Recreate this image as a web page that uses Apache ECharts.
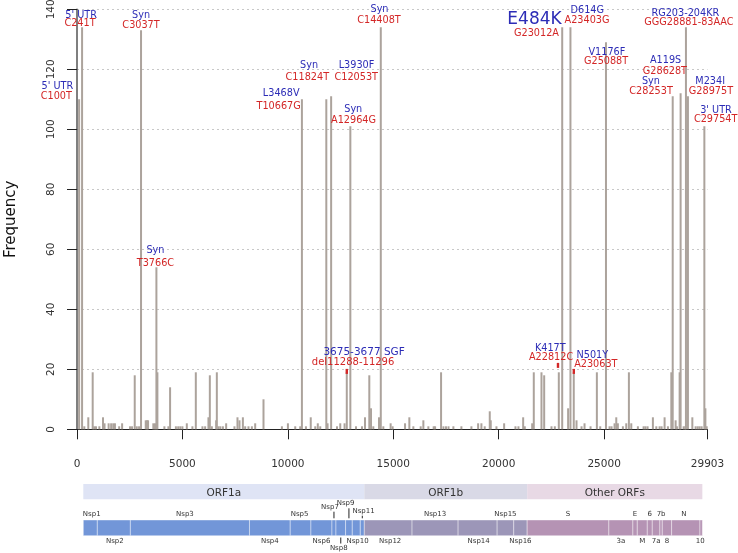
<!DOCTYPE html>
<html><head><meta charset="utf-8">
<script src="https://cdn.jsdelivr.net/npm/echarts@6/dist/echarts.min.js"></script>
<style>html,body{margin:0;padding:0;background:#fff}#c{width:738px;height:553px}</style>
</head><body><div id="c"></div>
<script>
// ---------------- DATA ----------------
const GENOME_LEN = 29903;
const xTickValues = [0, 5000, 10000, 15000, 20000, 25000, 29903];
const yMax = 140, yStep = 20;

// unannotated variant frequencies
const barPositions = [347,536,744,820,900,1060,1234,1306,1500,1620,1720,1800,2000,2140,2516,2610,2738,2834,2944,3260,3320,3370,3620,3700,3813,4145,4335,4415,4690,4800,4900,5000,5208,5474,5635,5950,6077,6234,6300,6395,6600,6632,6710,6800,6920,7074,7468,7611,7706,7867,7976,8133,8294,8451,8845,9718,10003,10350,10587,10858,11086,11300,11420,11537,11884,12330,12486,12690,12795,13232,13517,13659,13863,13945,14053,14324,14528,14875,14970,15558,15762,15952,16300,16427,16664,16916,16983,17267,17380,17500,17620,17851,18231,18706,19024,19180,19337,19576,19623,19893,20258,20795,20937,21160,21237,21588,21664,22029,22157,22504,22662,22851,23293,23560,23691,23929,24071,24356,24656,24816,25258,25353,25495,25576,25652,25890,26050,26175,26288,26601,26872,26960,27062,27313,27475,27631,27726,27868,28026,28187,28391,28453,28581,28771,28852,29184,29340,29440,29530,29626,29803,29864];
const barFrequencies = [1,4,19,1,1,1,4,2,2,2,2,2,1,2,1,1,18,1,1,3,3,3,2,2,19,1,1,14,1,1,1,1,2,1,19,1,1,4,18,1,3,19,1,1,1,2,1,4,3,4,1,1,1,2,10,1,2,1,1,1,4,1,2,1,2,1,2,2,19,1,1,4,18,7,1,4,1,2,1,2,4,1,1,3,1,1,1,19,1,1,1,1,1,1,2,2,1,6,3,1,2,1,1,4,1,2,19,19,18,1,1,19,7,19,3,1,2,1,19,1,1,1,2,4,2,1,2,19,2,1,1,1,1,4,1,1,1,4,1,19,3,1,19,1,1,4,1,1,1,1,7,1];

// annotated high-frequency variants
const annotPositions   = [100,241,3037,3766,10667,11824,12053,12964,14408,23012,23403,25088,28253,28628,28881,28975,29754];
const annotFrequencies = [110,134,133,54,110,110,111,101,134,134,134,129,111,112,134,111,101];
const annotEffects   = ["5' UTR","5' UTR","Syn","Syn","L3468V","Syn","L3930F","Syn","Syn","E484K","D614G","V1176F","Syn","A119S","RG203-204KR","M234I","3' UTR"];
const annotMutations = ["C100T","C241T","C3037T","T3766C","T10667G","C11824T","C12053T","A12964G","C14408T","G23012A","A23403G","G25088T","C28253T","G28628T","GGG28881-83AAC","G28975T","C29754T"];

// highlighted low-frequency variants (red ticks)
const markerPositions   = [12795, 22812, 23563];
const markerFrequencies = [19.3, 21.3, 19.3];
const markerEffects   = ["3675-3677 SGF","K417T","N501Y"];
const markerMutations = ["del11288-11296","A22812C","A23063T"];

// genome map
const bandNames  = ["ORF1a","ORF1b","Other ORFs"];
const bandStarts = [299, 13626, 21350];
const bandEnds   = [13626, 21350, 29659];
const segNames  = ["Nsp1","Nsp2","Nsp3","Nsp4","Nsp5","Nsp6","Nsp7","Nsp8","Nsp9","Nsp10","Nsp11","Nsp12","Nsp13","Nsp14","Nsp15","Nsp16","S","3a","E","M","6","7a","7b","8","N","10"];
const segStarts = [299,964,2531,8180,10113,11095,12092,12282,12738,13056,13436,13626,15891,18075,19926,20714,21350,25225,26364,26573,27047,27284,27645,27759,28201,29545];
const segEnds   = [964,2531,8180,10113,11095,12092,12282,12738,13056,13436,13626,15891,18075,19926,20714,21350,25225,26364,26573,27047,27284,27645,27759,28201,29545,29659];
const segGroups = [0,0,0,0,0,0,0,0,0,0,0,1,1,1,1,1,2,2,2,2,2,2,2,2,2,2];

// ---------------- LAYOUT (pixel offsets, styles) ----------------
const FONT = '"DejaVu Sans", Verdana, sans-serif';
const BAR_COLOR = '#aca39c';
const BLUE = '#2c2cb6', RED = '#d32626';
const LBL = 9.7;
const annotEffectOffset = [[-21.8,-12.6],[-0.9,-12.3],[0,-15.3],[-1,-17],[-20.7,-6],[-17.3,-33.6],[25.4,-30.6],[2.9,-17.3],[-1.3,-18],[-27.7,-8],[16.8,-17.3],[0.9,10],[-21.8,-15.3],[-15,-32.6],[-0.6,-14],[22.2,-15.3],[11.6,-16.3]];
const annotMutationOffset = [[-22.8,-2.6],[-2.1,-4],[0,-5.3],[-1,-4],[-23.3,6.7],[-19,-22],[25.1,-19],[3.2,-6.3],[-1.8,-6.6],[-25.7,6],[16.6,-6.6],[0.1,19.4],[-21.6,-5.3],[-15.7,-22.3],[3,-4.6],[23,-5.3],[11.3,-7]];
const annotEffectSize = [LBL,LBL,LBL,LBL,LBL,LBL,LBL,LBL,LBL,17,LBL,LBL,LBL,LBL,LBL,LBL,LBL];
const markerEffectOffset = [[17.3,-19.6],[-7.7,-17],[18.5,-16.2]];
const markerMutationOffset = [[6.3,-8.6],[-6.9,-7.6],[22,-7.2]];
const markerEffectSize = [10.5, LBL, LBL];
const markerMutationSize = [10, LBL, LBL];
const bandColors = ['#dfe4f5','#d9d9e6','#e8d9e5'];
const segColors = ['#7296d8','#9c96b8','#b593b4'];
// label layout per segment: [dx, y (relative to map top), tick]
const A = 44.3, B = 70.7;
const segLabelLayout = [[1.4,A,0],[1,B,0],[-5,A,0],[0,B,0],[-1,A,0],[0,B,0],[-4,36.7,1],[-2,78,1],[-3.4,33.3,1],[1.3,B,0],[1.3,40.7,1],[2,B,0],[0,A,0],[1,B,0],[0,A,0],[0,B,0],[0,A,0],[0,B,0],[0,A,0],[0,B,0],[0,A,0],[0,B,0],[0,A,0],[0,B,0],[-2,A,0],[-1,B,0]];

// ---------------- BUILD ----------------
const barData = barPositions.map((p, i) => [p, barFrequencies[i]])
  .concat(annotPositions.map((p, i) => [p, annotFrequencies[i]]));
const annotData = annotPositions.map((p, i) => [p, annotFrequencies[i]]);
const markerData = markerPositions.map((p, i) => [p, markerFrequencies[i]]);
const bandData = bandNames.map((n, i) => [bandStarts[i], bandEnds[i], i]);
const segData = segNames.map((n, i) => [segStarts[i], segEnds[i], segGroups[i]]);

function txt(x, y, text, fill, size, extra) {
  return Object.assign({type: 'text', x: x, y: y, silent: true,
    style: {text: text, fill: fill, fontSize: size, fontFamily: FONT, align: 'center', verticalAlign: 'middle'}}, extra || {});
}

const chart = echarts.init(document.getElementById('c'), null, {renderer: 'canvas'});
chart.setOption({
  animation: false,
  backgroundColor: '#fff',
  grid: [
    {left: 77, right: 30.5, top: 9.3, height: 420, containLabel: false, outerBoundsMode: 'none'},
    {left: 77, right: 30.5, top: 470, height: 83, containLabel: false, outerBoundsMode: 'none'}
  ],
  xAxis: [{
    type: 'value', gridIndex: 0, min: 0, max: GENOME_LEN,
    axisLine: {show: true, onZero: false, lineStyle: {color: '#222', width: 1}},
    axisTick: {show: true, length: 10, lineStyle: {color: '#222'}, customValues: xTickValues},
    axisLabel: {customValues: xTickValues, margin: 29, fontSize: 10.5, color: '#333', fontFamily: FONT,
      formatter: function (v) { return String(v); }},
    splitLine: {show: false}
  }, {
    type: 'value', gridIndex: 1, min: 0, max: GENOME_LEN, show: false
  }],
  yAxis: [{
    type: 'value', gridIndex: 0, min: 0, max: yMax, interval: yStep,
    name: 'Frequency', nameLocation: 'middle', nameGap: 58,
    nameTextStyle: {fontSize: 15, color: '#111', fontFamily: FONT},
    axisLine: {show: true, lineStyle: {color: '#555', width: 1.5}},
    axisTick: {show: true, length: 10, lineStyle: {color: '#222'}},
    axisLabel: {rotate: 90, margin: 20, fontSize: 10.5, color: '#333', fontFamily: FONT,
      formatter: function (v) { return String(v); }},
    splitLine: {show: true, lineStyle: {type: [2, 3], color: '#c8c8c8', width: 1}}
  }, {
    type: 'value', gridIndex: 1, min: 0, max: 83, inverse: true, show: false
  }],
  series: [
    {
      type: 'custom', name: 'freq', xAxisIndex: 0, yAxisIndex: 0, silent: true,
      data: barData,
      renderItem: function (params, api) {
        const x = api.value(0), y = api.value(1);
        const p0 = api.coord([x, 0]), p1 = api.coord([x, y]);
        return {type: 'rect', shape: {x: p0[0] - 1, y: p1[1], width: 2, height: p0[1] - p1[1]}, style: {fill: BAR_COLOR}};
      }
    },
    {
      type: 'custom', name: 'annot', xAxisIndex: 0, yAxisIndex: 0, silent: true, clip: false,
      data: annotData,
      renderItem: function (params, api) {
        const i = params.dataIndex;
        const pt = api.coord([api.value(0), api.value(1)]);
        const eo = annotEffectOffset[i], mo = annotMutationOffset[i];
        return {type: 'group', children: [
          txt(pt[0] + eo[0], pt[1] + eo[1], annotEffects[i], BLUE, annotEffectSize[i]),
          txt(pt[0] + mo[0], pt[1] + mo[1], annotMutations[i], RED, LBL)
        ]};
      }
    },
    {
      type: 'custom', name: 'markers', xAxisIndex: 0, yAxisIndex: 0, silent: true, clip: false,
      data: markerData,
      renderItem: function (params, api) {
        const i = params.dataIndex;
        const pt = api.coord([api.value(0), api.value(1)]);
        const eo = markerEffectOffset[i], mo = markerMutationOffset[i];
        return {type: 'group', children: [
          {type: 'rect', shape: {x: pt[0] - 1.2, y: pt[1] - 2.5, width: 2.4, height: 5}, style: {fill: RED}},
          txt(pt[0] + eo[0], pt[1] + eo[1], markerEffects[i], BLUE, markerEffectSize[i]),
          txt(pt[0] + mo[0], pt[1] + mo[1], markerMutations[i], RED, markerMutationSize[i])
        ]};
      }
    },
    {
      type: 'custom', name: 'bands', xAxisIndex: 1, yAxisIndex: 1, silent: true, clip: false,
      data: bandData,
      renderItem: function (params, api) {
        const i = params.dataIndex;
        const s = api.coord([api.value(0), 0])[0], e = api.coord([api.value(1), 0])[0];
        const top = params.coordSys.y;
        return {type: 'group', children: [
          {type: 'rect', shape: {x: s, y: top + 14, width: e - s, height: 15.3}, style: {fill: bandColors[i]}},
          txt((s + e) / 2, top + 22.8, bandNames[i], '#333', 10.5)
        ]};
      }
    },
    {
      type: 'custom', name: 'segments', xAxisIndex: 1, yAxisIndex: 1, silent: true, clip: false,
      data: segData,
      renderItem: function (params, api) {
        const i = params.dataIndex;
        const s = api.coord([api.value(0), 0])[0], e = api.coord([api.value(1), 0])[0];
        const top = params.coordSys.y;
        const g = api.value(2);
        const lay = segLabelLayout[i];
        const cx = (s + e) / 2;
        const ch = [
          {type: 'rect', shape: {x: s, y: top + 50, width: e - s, height: 15.7},
           style: {fill: segColors[g], stroke: 'rgba(255,255,255,0.5)', lineWidth: 0.8}},
          txt(cx + lay[0], top + lay[1], segNames[i], '#333', 7)
        ];
        if (lay[2]) {
          const above = lay[1] < 50;
          const y1 = above ? top + lay[1] + 5 : top + 67.5;
          const y2 = above ? top + 48.3 : top + lay[1] - 4.5;
          ch.push({type: 'line', shape: {x1: cx, y1: y1, x2: cx, y2: y2}, style: {stroke: '#222', lineWidth: 1}});
        }
        return {type: 'group', children: ch};
      }
    }
  ]
});
</script>
</body></html>
